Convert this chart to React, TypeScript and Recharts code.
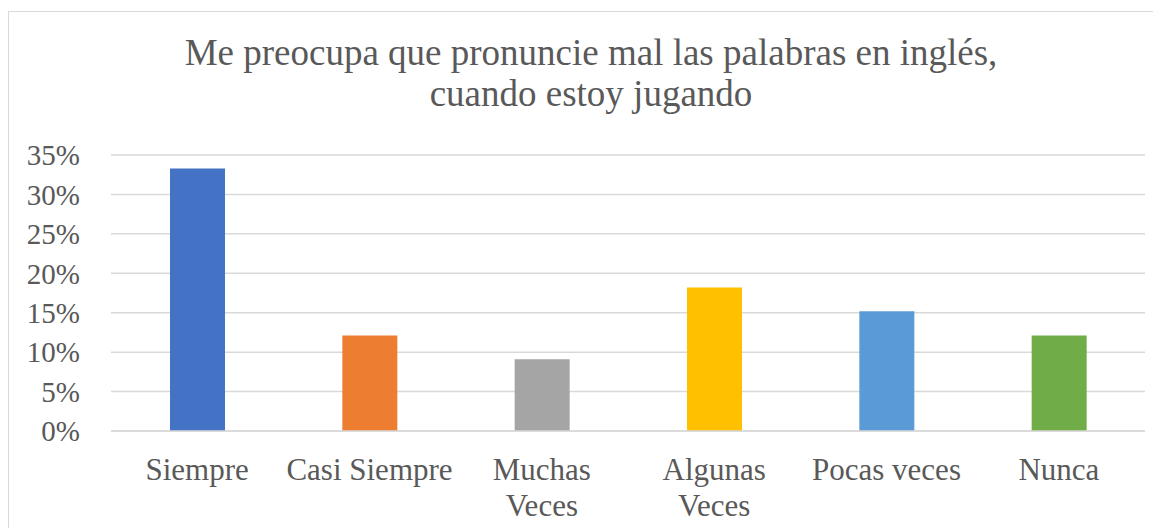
import { Bar, BarChart, CartesianGrid, Cell, XAxis, YAxis } from "recharts";

const categoryLines = [
  ["Siempre"],
  ["Casi Siempre"],
  ["Muchas", "Veces"],
  ["Algunas", "Veces"],
  ["Pocas veces"],
  ["Nunca"],
];
const categories = categoryLines.map((lines) => lines.join(" "));
const percentages = [0.333, 0.121, 0.091, 0.182, 0.152, 0.121];
const barColors = ["#4472C4", "#ED7D31", "#A5A5A5", "#FFC000", "#5B9BD5", "#70AD47"];
const yTicks = [0, 0.05, 0.1, 0.15, 0.2, 0.25, 0.3, 0.35];
const titleLines = ["Me preocupa que pronuncie mal las palabras en inglés,", "cuando estoy jugando"];

const data = categories.map((name, i) => ({ name, value: percentages[i] }));

const FONT = "Liberation Serif, serif";
const TEXT = "#595959";

function formatPercent(v: number) {
  return `${Math.round(v * 100)}%`;
}

function CategoryTick({ x, y, index }: any) {
  const lines = categoryLines[index] ?? [];
  return (
    <text x={x} y={y} textAnchor="middle" fill={TEXT} fontSize={31} fontFamily={FONT}>
      {lines.map((line, i) => (
        <tspan key={i} x={x} dy={i === 0 ? 47 : 36}>
          {line}
        </tspan>
      ))}
    </text>
  );
}

export default function App() {
  return (
    <div
      style={{
        position: "relative",
        top: 3,
        width: 1152,
        height: 519,
        borderTop: "1px solid #d9d9d9",
        borderLeft: "1px solid #d9d9d9",
      }}
    >
      <div
        style={{
          position: "absolute",
          left: 0,
          top: 20,
          width: 1164,
          textAlign: "center",
          fontFamily: FONT,
          fontSize: 37,
          lineHeight: "41px",
          color: TEXT,
        }}
      >
        {titleLines.map((line) => (
          <div key={line}>{line}</div>
        ))}
      </div>

      <BarChart
        width={1151}
        height={519}
        data={data}
        margin={{ top: 143, right: 15, bottom: 40, left: 12 }}
      >
        <CartesianGrid vertical={false} stroke="#d9d9d9" strokeWidth={1.5} />
        <XAxis
          dataKey="name"
          axisLine={{ stroke: "#d9d9d9", strokeWidth: 1.5 }}
          tickLine={false}
          tickSize={0}
          height={60}
          interval={0}
          tick={<CategoryTick />}
        />
        <YAxis
          domain={[0, 0.35]}
          ticks={yTicks}
          tickFormatter={formatPercent}
          axisLine={false}
          tickLine={false}
          tickSize={6}
          tickMargin={25}
          width={90}
          tick={{ fill: TEXT, fontSize: 29, fontFamily: FONT }}
        />
        <Bar dataKey="value" barSize={55} isAnimationActive={false}>
          {data.map((_, i) => (
            <Cell key={i} fill={barColors[i]} />
          ))}
        </Bar>
      </BarChart>
    </div>
  );
}
